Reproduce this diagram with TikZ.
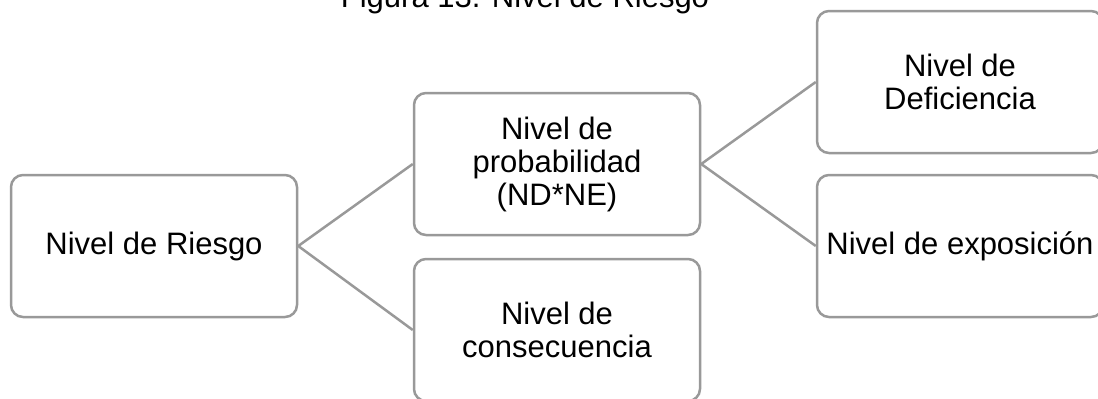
\documentclass[tikz,border=0pt]{standalone}
\usepackage{fontspec}
\setmainfont{Liberation Sans}
\usepackage{tikz}
\usetikzlibrary{positioning}
\def\boxgray{black!40}

\begin{document}
\begin{tikzpicture}[x=1pt, y=-1pt]
			\tikzstyle{level box}=[rectangle, rounded corners=12pt, draw=\boxgray, line width=2.5pt, minimum width=286pt, minimum height=142pt, inner sep=0pt, align=center, font={\fontsize{31}{33}\selectfont}]
			\tikzstyle{link}=[draw=\boxgray, line width=2.5pt]
			\tikzstyle{caption}=[font={\fontsize{31}{33}\selectfont}, inner sep=0pt]

			\useasboundingbox (0,0) rectangle (1098,399);
			\clip (0,0) rectangle (1098,399);

			% Title, cut off at the top
			\node[caption, anchor=base] (title) at (525, 7) {Figura 13. Nivel de Riesgo};

			% Draw the boxes
			\node[level box] (R) at (154, 246) {Nivel de Riesgo};
			\node[level box] (P) at (557, 164) {Nivel de\\probabilidad\\(ND*NE)};
			\node[level box] (C) at (557, 330) {Nivel de\\consecuencia};
			\node[level box] (D) at (960, 82) {Nivel de\\Deficiencia};
			\node[level box] (E) at (960, 246) {Nivel de exposición};

			% Connect every parent with its children
			\foreach \source/\dest in {R/P, R/C, P/D, P/E}
				\path[link] (\source.east) -- (\dest.west);
\end{tikzpicture}
\end{document}
